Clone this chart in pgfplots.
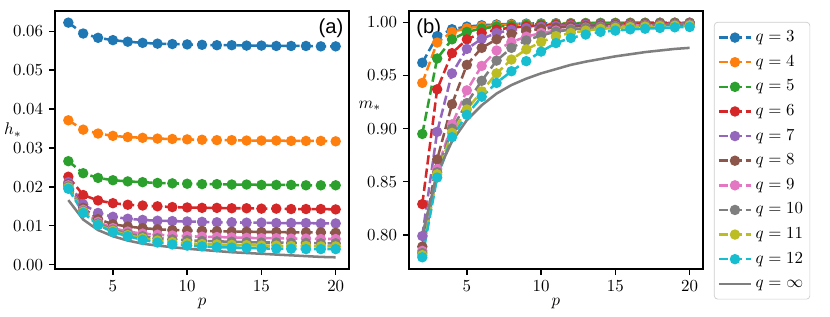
\documentclass[border=0pt]{standalone}
\usepackage{fontspec}
\usepackage{pgfplots}
\pgfplotsset{compat=1.18}
\usepackage{pgfplotstable}
\newfontfamily\panelfont{Liberation Sans}
\definecolor{c0}{HTML}{1F77B4}
\definecolor{c1}{HTML}{FF7F0E}
\definecolor{c2}{HTML}{2CA02C}
\definecolor{c3}{HTML}{D62728}
\definecolor{c4}{HTML}{9467BD}
\definecolor{c5}{HTML}{8C564B}
\definecolor{c6}{HTML}{E377C2}
\definecolor{c7}{HTML}{7F7F7F}
\definecolor{c8}{HTML}{BCBD22}
\definecolor{c9}{HTML}{17BECF}

\pgfplotstableread{
p q3 q4 q5 q6 q7 q8 q9 q10 q11 q12 qinf
2 0.0622 0.0371 0.0266 0.0226 0.0212 0.0207 0.0204 0.0201 0.0198 0.0195 0.0166
3 0.0594 0.0347 0.0235 0.0179 0.0155 0.0146 0.0141 0.0138 0.0136 0.0133 0.0116
4 0.0583 0.0337 0.0223 0.0165 0.0133 0.0117 0.0110 0.0106 0.0103 0.0102 0.0089
5 0.0577 0.0331 0.0217 0.0158 0.0123 0.0104 0.0094 0.0090 0.0087 0.0084 0.0073
6 0.0573 0.0328 0.0214 0.0154 0.0118 0.0098 0.0085 0.0080 0.0076 0.0073 0.0062
7 0.0570 0.0326 0.0212 0.0152 0.0115 0.0094 0.0080 0.0073 0.0068 0.0064 0.0054
8 0.0568 0.0324 0.0210 0.0150 0.0113 0.0091 0.0077 0.0068 0.0062 0.0057 0.0049
9 0.0567 0.0323 0.0209 0.0148 0.0112 0.0089 0.0075 0.0065 0.0058 0.0052 0.0045
10 0.0566 0.0322 0.0208 0.0147 0.0111 0.0088 0.0073 0.0063 0.0055 0.0049 0.0041
11 0.0565 0.0321 0.0207 0.0146 0.0110 0.0087 0.0072 0.0061 0.0053 0.0047 0.0038
12 0.0564 0.0320 0.0207 0.0146 0.0109 0.0086 0.0071 0.0060 0.0052 0.0045 0.0035
13 0.0564 0.0320 0.0206 0.0145 0.0109 0.0085 0.0070 0.0059 0.0051 0.0044 0.0032
14 0.0563 0.0319 0.0206 0.0145 0.0108 0.0085 0.0069 0.0058 0.0050 0.0043 0.0030
15 0.0563 0.0319 0.0205 0.0144 0.0108 0.0084 0.0068 0.0057 0.0049 0.0042 0.0028
16 0.0562 0.0319 0.0205 0.0144 0.0107 0.0084 0.0068 0.0057 0.0049 0.0041 0.0026
17 0.0562 0.0318 0.0205 0.0143 0.0107 0.0083 0.0067 0.0056 0.0048 0.0041 0.0024
18 0.0562 0.0318 0.0204 0.0143 0.0107 0.0083 0.0067 0.0056 0.0048 0.0040 0.0022
19 0.0561 0.0318 0.0204 0.0143 0.0106 0.0083 0.0066 0.0055 0.0047 0.0040 0.0020
20 0.0561 0.0317 0.0204 0.0142 0.0106 0.0082 0.0066 0.0055 0.0047 0.0040 0.0019
}\hdata

\pgfplotstableread{
p q3 q4 q5 q6 q7 q8 q9 q10 q11 q12 qinf
2 0.962 0.943 0.895 0.829 0.799 0.789 0.785 0.783 0.781 0.779 0.800
3 0.987 0.981 0.966 0.937 0.897 0.871 0.862 0.859 0.857 0.854 0.858
4 0.9935 0.991 0.984 0.971 0.952 0.923 0.904 0.900 0.896 0.892 0.888
5 0.996 0.9945 0.991 0.984 0.975 0.960 0.936 0.924 0.918 0.913 0.908
6 0.9972 0.9962 0.9942 0.990 0.9845 0.976 0.959 0.945 0.935 0.930 0.922
7 0.998 0.9972 0.996 0.9932 0.990 0.984 0.9735 0.964 0.952 0.943 0.933
8 0.9985 0.9978 0.997 0.995 0.9928 0.989 0.9815 0.976 0.965 0.954 0.941
9 0.9988 0.9983 0.9977 0.9962 0.9946 0.992 0.9865 0.983 0.9745 0.9635 0.947
10 0.999 0.9986 0.9982 0.997 0.9958 0.9938 0.990 0.9877 0.9815 0.9725 0.952
11 0.9992 0.9988 0.9985 0.9976 0.9966 0.995 0.9922 0.9912 0.987 0.9805 0.956
12 0.9993 0.999 0.9988 0.998 0.9972 0.996 0.9938 0.9932 0.990 0.9853 0.960
13 0.9994 0.9991 0.999 0.9983 0.9977 0.9967 0.995 0.9946 0.9922 0.9885 0.963
14 0.9995 0.9992 0.9991 0.9985 0.998 0.9972 0.9958 0.9955 0.9938 0.991 0.9655
15 0.9995 0.9993 0.9992 0.9987 0.9983 0.9976 0.9964 0.9962 0.9948 0.9922 0.968
16 0.9996 0.9994 0.9993 0.9988 0.9985 0.9979 0.9969 0.9967 0.9955 0.9934 0.970
17 0.9996 0.9994 0.9994 0.9989 0.9986 0.9981 0.9973 0.9971 0.996 0.994 0.972
18 0.9997 0.9995 0.9994 0.999 0.9988 0.9983 0.9976 0.9974 0.9965 0.9947 0.9735
19 0.9997 0.9995 0.9995 0.9991 0.9989 0.9985 0.9978 0.9977 0.9968 0.9953 0.975
20 0.9997 0.9996 0.9995 0.9992 0.999 0.9986 0.998 0.9979 0.9971 0.9956 0.976
}\mdata

\pgfplotsset{
  qs/.style={color=#1, line width=1.5pt, dash pattern=on 5.5pt off 2.4pt,
    mark=*, mark size=2.3pt, mark options={solid, fill=#1, draw=#1}},
  qinf/.style={color=c7, line width=1.5pt, solid, no marks},
  panel/.style={
    width=174.4pt, height=153pt, scale only axis,
    xmin=1.1, xmax=20.9,
    xtick={5,10,15,20},
    xtick pos=bottom, ytick pos=left,
    tick align=outside,
    major tick length=3.5pt,
    every tick/.style={black, line width=0.8pt},
    axis line style={line width=0.8pt},
    xlabel={$p$},
    xlabel style={yshift=3pt},
    yticklabel style={/pgf/number format/fixed, /pgf/number format/fixed zerofill, /pgf/number format/precision=2},
    scaled y ticks=false,
  },
}

\newcommand{\allplots}[1]{%
  \addplot[qs=c0] table[x=p,y=q3]{#1};
  \addplot[qs=c1] table[x=p,y=q4]{#1};
  \addplot[qs=c2] table[x=p,y=q5]{#1};
  \addplot[qs=c3] table[x=p,y=q6]{#1};
  \addplot[qs=c4] table[x=p,y=q7]{#1};
  \addplot[qs=c5] table[x=p,y=q8]{#1};
  \addplot[qs=c6] table[x=p,y=q9]{#1};
  \addplot[qs=c7] table[x=p,y=q10]{#1};
  \addplot[qs=c8] table[x=p,y=q11]{#1};
  \addplot[qs=c9] table[x=p,y=q12]{#1};
  \addplot[qinf] table[x=p,y=qinf]{#1};
}

\begin{document}
\begin{tikzpicture}
\begin{axis}[panel,
  at={(0pt,0pt)}, anchor=south west,
  ymin=-0.0011, ymax=0.0652,
  ytick={0,0.01,0.02,0.03,0.04,0.05,0.06},
  ylabel={$h_*$},
  ylabel style={rotate=-90, at={(axis description cs:-0.143,0.539)}, anchor=center},
]
\allplots{\hdata}
\node[anchor=north east, inner sep=0pt, font=\panelfont\fontsize{12}{14}\selectfont] at (axis description cs:0.982,0.972) {(a)};
\end{axis}
\begin{axis}[panel,
  at={(209.9pt,0pt)}, anchor=south west,
  ymin=0.768, ymax=1.0107,
  ytick={0.80,0.85,0.90,0.95,1.00},
  ylabel={$m_*$},
  ylabel style={rotate=-90, at={(axis description cs:-0.133,0.632)}, anchor=center},
  legend cell align=left,
  legend style={at={(1,1)}, anchor=north west, xshift=6.5pt, yshift=-6.5pt,
    draw=black!20, rounded corners=2pt, inner xsep=2pt, inner ysep=2.5pt,
    row sep=1.4pt,
    nodes={inner sep=2pt, text height=7pt, text depth=2.2pt}},
  legend image code/.code={\draw[mark repeat=2, mark phase=2, #1] plot coordinates {(0pt,0pt) (9.5pt,0pt) (19pt,0pt)};},
]
\allplots{\mdata}
\legend{$q=3$,$q=4$,$q=5$,$q=6$,$q=7$,$q=8$,$q=9$,$q=10$,$q=11$,$q=12$,$q=\infty$}
\node[anchor=north west, inner sep=0pt, font=\panelfont\fontsize{12}{14}\selectfont] at (axis description cs:0.024,0.972) {(b)};
\end{axis}
\pgfresetboundingbox
\path (-32.6pt,-27.9pt) rectangle (459.6pt,159.5pt);
\end{tikzpicture}
\end{document}
